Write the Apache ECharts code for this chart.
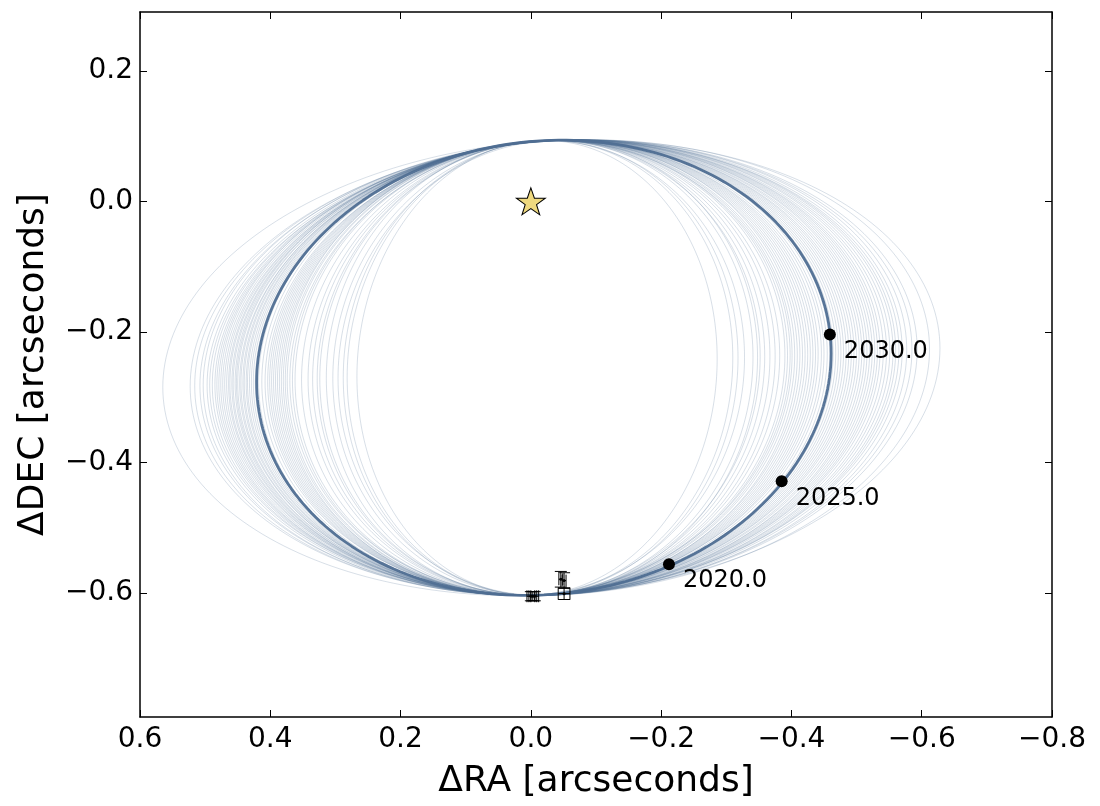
<!DOCTYPE html>
<html><head><meta charset="utf-8">
<script src="https://cdn.jsdelivr.net/npm/echarts@6/dist/echarts.min.js"></script>
<style>html,body{margin:0;padding:0;background:#fff}#c{width:1100px;height:806px}</style>
</head><body><div id="c"></div>
<script>
// ---- data ----
const xTicks = [-0.8, -0.6, -0.4, -0.2, 0, 0.2, 0.4, 0.6];
const yTicks = [-0.6, -0.4, -0.2, 0, 0.2];
// best-fit orbit: centre, horizontal half-width, vertical half-height, shear
const mainCX = -0.020, mainCY = -0.255, mainAH = 0.441, mainBV = 0.348, mainShear = -0.05;
// sampled orbits: leftmost (max ΔRA) and rightmost (min ΔRA) extents
const thinLeft = [0.565,0.523,0.516,0.508,0.503,0.497,0.493,0.489,0.485,0.482,
  0.479,0.476,0.473,0.470,0.467,0.464,0.462,0.459,0.457,0.454,
  0.452,0.450,0.447,0.445,0.442,0.440,0.437,0.435,0.432,0.429,
  0.426,0.423,0.418,0.413,0.408,0.404,0.401,0.398,0.395,0.392,
  0.389,0.386,0.383,0.380,0.377,0.374,0.370,0.366,0.362,0.352,
  0.342,0.335,0.328,0.324,0.314,0.304,0.296,0.288,0.282,0.267];
const thinRight = [-0.628,-0.612,-0.593,-0.585,-0.565,-0.570,-0.577,-0.560,-0.556,-0.551,
  -0.546,-0.532,-0.536,-0.541,-0.528,-0.524,-0.520,-0.516,-0.512,-0.496,
  -0.504,-0.500,-0.508,-0.492,-0.488,-0.484,-0.480,-0.476,-0.472,-0.468,
  -0.464,-0.459,-0.446,-0.450,-0.455,-0.441,-0.437,-0.433,-0.429,-0.425,
  -0.421,-0.417,-0.413,-0.398,-0.405,-0.401,-0.409,-0.394,-0.390,-0.382,
  -0.375,-0.367,-0.359,-0.352,-0.328,-0.341,-0.348,-0.318,-0.310,-0.286];
const thinCY = -0.255, thinBV = 0.348, thinShear = -0.05;
// astrometry with errors
const obsRA     = [0.000, -0.003, -0.006, -0.046, -0.051, -0.051];
const obsDEC    = [-0.605, -0.605, -0.605, -0.579, -0.581, -0.601];
const obsRAErr  = [0.006, 0.006, 0.006, 0.003, 0.003, 0.009];
const obsDECErr = [0.007, 0.007, 0.007, 0.012, 0.012, 0.009];
// epoch markers
const epochLabels = ['2020.0', '2025.0', '2030.0'];
const epochRA  = [-0.212, -0.385, -0.459];
const epochDEC = [-0.556, -0.429, -0.204];
// host star
const starRA = [0.0], starDEC = [0.0];

// ---- build ----
const N = 240;
function orbitCurve(cx, cy, ah, bv, s) {
  const pts = [];
  for (let i = 0; i <= N; i++) {
    const t = 2 * Math.PI * i / N;
    const dx = ah * Math.cos(t);
    pts.push([cx + dx, cy + bv * Math.sin(t) + s * dx]);
  }
  return pts;
}
const fmt = v => Math.abs(v) < 1e-9 ? '0.0' : (v < 0 ? '\u2212' : '') + Math.abs(v).toFixed(1);
const FONT = 'DejaVu Sans';
const ORBIT = '#4f6e92';

const series = [];
thinLeft.forEach((L, i) => {
  const R = thinRight[i];
  series.push({
    type: 'line', data: orbitCurve((L + R) / 2, thinCY, (L - R) / 2, thinBV, thinShear),
    showSymbol: false, symbol: 'none', silent: true, animation: false, z: 2,
    lineStyle: { color: ORBIT, width: 1, opacity: 0.22 }
  });
});
series.push({
  type: 'line', data: orbitCurve(mainCX, mainCY, mainAH, mainBV, mainShear),
  showSymbol: false, symbol: 'none', silent: true, animation: false, z: 3,
  lineStyle: { color: ORBIT, width: 2.8, opacity: 0.95 }
});
series.push({
  type: 'custom', animation: false, z: 5, silent: true,
  data: obsRA.map((x, i) => [x, obsDEC[i], obsRAErr[i], obsDECErr[i]]),
  encode: { x: 0, y: 1 },
  renderItem(params, api) {
    const x = api.value(0), y = api.value(1), ex = api.value(2), ey = api.value(3);
    const c = api.coord([x, y]);
    const l = api.coord([x + ex, y]), r = api.coord([x - ex, y]);
    const t = api.coord([x, y + ey]), b = api.coord([x, y - ey]);
    const cap = 6;
    const st = { stroke: '#000', lineWidth: 1 };
    const ln = (x1, y1, x2, y2) => ({ type: 'line', shape: { x1, y1, x2, y2 }, style: st });
    return { type: 'group', children: [
      ln(l[0], c[1], r[0], c[1]),
      ln(l[0], c[1] - cap, l[0], c[1] + cap),
      ln(r[0], c[1] - cap, r[0], c[1] + cap),
      ln(c[0], t[1], c[0], b[1]),
      ln(c[0] - cap, t[1], c[0] + cap, t[1]),
      ln(c[0] - cap, b[1], c[0] + cap, b[1]),
      { type: 'circle', shape: { cx: c[0], cy: c[1], r: 1.5 }, style: { fill: '#000' } }
    ]};
  }
});
series.push({
  type: 'scatter', animation: false, z: 6, silent: true,
  data: starRA.map((x, i) => [x, starDEC[i]]),
  symbol: 'path://M50,0 L61.8,35.1 L98.1,35.1 L68.8,56.8 L79.4,91 L50,70 L20.6,91 L31.2,56.8 L1.9,35.1 L38.2,35.1 Z',
  symbolSize: [29, 27],
  itemStyle: { color: '#efd97f', borderColor: '#000', borderWidth: 1, opacity: 1 }
});
series.push({
  type: 'scatter', animation: false, z: 7, silent: true,
  data: epochRA.map((x, i) => ({ value: [x, epochDEC[i]], name: epochLabels[i] })),
  symbol: 'circle', symbolSize: 12,
  itemStyle: { color: '#000', opacity: 1 },
  label: { show: true, formatter: p => p.name, position: 'right', distance: 8, offset: [0, 17],
    color: '#000', fontFamily: FONT, fontSize: 24 }
});

const axisLineStyle = { show: true, onZero: false, lineStyle: { color: '#000', width: 1.5 } };
const tickStyle = { inside: true, length: 7, lineStyle: { color: '#000', width: 1 } };
const opt = {
  animation: false,
  backgroundColor: '#fff',
  grid: { left: 140, right: 48, top: 12, bottom: 89, containLabel: false, outerBoundsMode: 'none' },
  xAxis: [{
    type: 'value', min: -0.8, max: 0.6, inverse: true, position: 'bottom',
    axisLine: axisLineStyle, splitLine: { show: false },
    axisTick: Object.assign({ customValues: xTicks }, tickStyle),
    axisLabel: { customValues: xTicks, formatter: fmt, margin: 9, color: '#000', fontFamily: FONT, fontSize: 28, showMinLabel: true, showMaxLabel: true },
    name: '\u0394RA [arcseconds]', nameLocation: 'middle', nameGap: 47,
    nameTextStyle: { color: '#000', fontFamily: FONT, fontSize: 36 }
  }, {
    type: 'value', min: -0.8, max: 0.6, inverse: true, position: 'top',
    axisLine: axisLineStyle, splitLine: { show: false },
    axisTick: Object.assign({ customValues: xTicks }, tickStyle),
    axisLabel: { show: false }
  }],
  yAxis: [{
    type: 'value', min: -0.79, max: 0.29, position: 'left',
    axisLine: axisLineStyle, splitLine: { show: false },
    axisTick: Object.assign({ customValues: yTicks }, tickStyle),
    axisLabel: { customValues: yTicks, formatter: fmt, margin: 7, color: '#000', fontFamily: FONT, fontSize: 28 },
    name: '\u0394DEC [arcseconds]', nameLocation: 'middle', nameGap: 88, nameRotate: 90,
    nameTextStyle: { color: '#000', fontFamily: FONT, fontSize: 36 }
  }, {
    type: 'value', min: -0.79, max: 0.29, position: 'right',
    axisLine: axisLineStyle, splitLine: { show: false },
    axisTick: Object.assign({ customValues: yTicks }, tickStyle),
    axisLabel: { show: false }
  }],
  series: series
};
const chart = echarts.init(document.getElementById('c'), null, { renderer: 'canvas' });
chart.setOption(opt);
</script></body></html>
